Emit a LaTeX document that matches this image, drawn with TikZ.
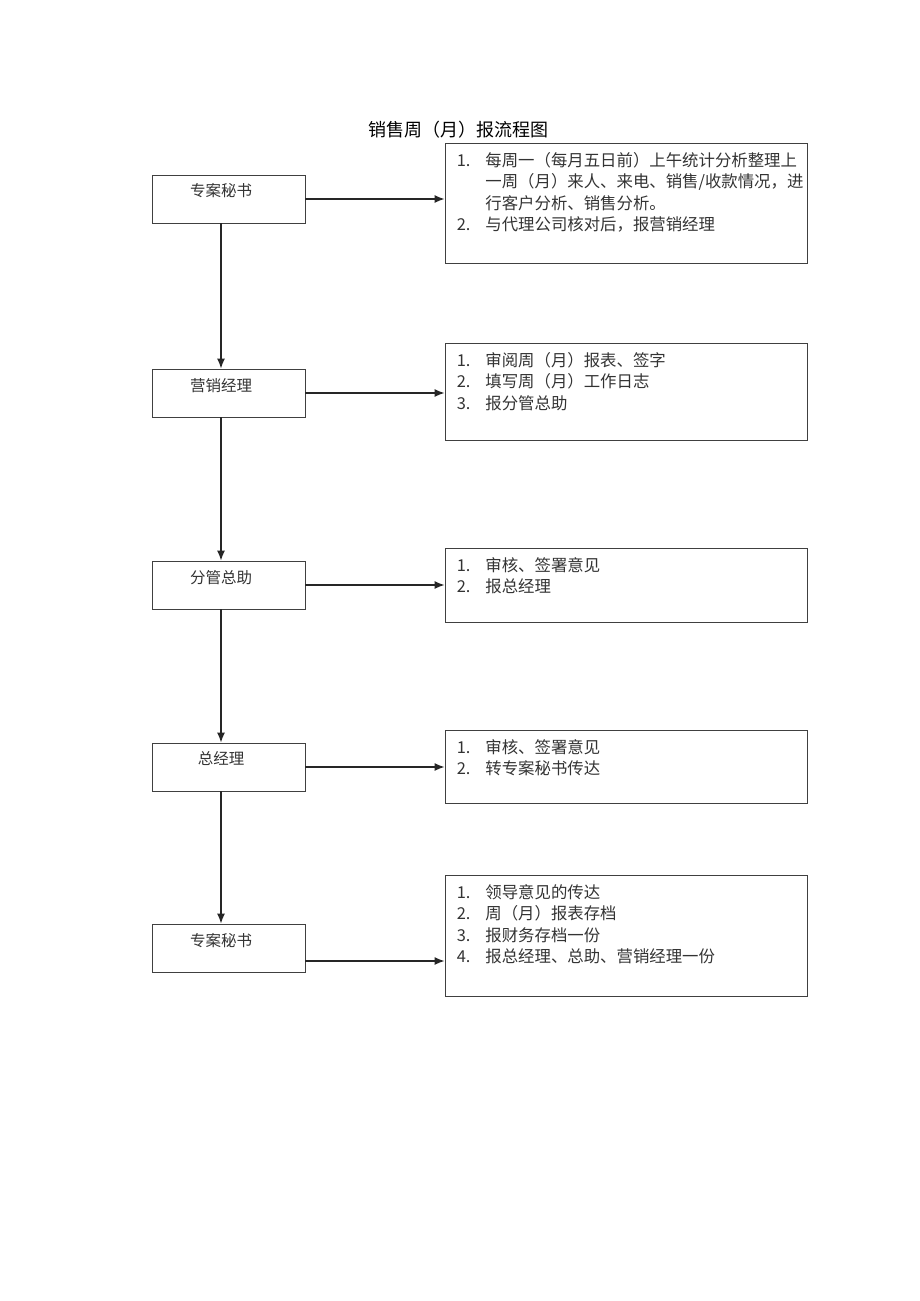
\documentclass[tikz,border=0pt]{standalone}
\usepackage{fontspec}
\newfontfamily\cjk{Noto Sans CJK SC}
\usetikzlibrary{arrows.meta}

\begin{document}
\begin{tikzpicture}[x=1pt,y=-1pt]
  \tikzset{lbox/.style = {draw=black!75,line width=0.9pt,minimum width=153pt,minimum height=48pt,inner sep=0pt}}
  \tikzset{rbox/.style = {draw=black!75,line width=0.9pt,minimum width=362pt,inner sep=0pt}}
  \tikzset{lbl/.style = {font=\cjk\fontsize{15.5}{21}\selectfont,text=black!80,inner sep=0pt}}
  \tikzset{items/.style = {font=\cjk\fontsize{16.4}{21.3}\selectfont,text=black!80,inner sep=0pt,anchor=north west,align=left}}
  \tikzset{edge/.style = {-{Latex[length=10pt,width=8pt]},line width=1.3pt,black!85}}

  \useasboundingbox (0,0) rectangle (920,1301);

  \node[font=\cjk\fontsize{18}{20}\selectfont] (title) at (458,130) {销售周（月）报流程图};

  % left column
  \node[lbox] (b1) at (228.5,199) {};
  \node[lbox] (b2) at (228.5,393) {};
  \node[lbox] (b3) at (228.5,585) {};
  \node[lbox] (b4) at (228.5,767) {};
  \node[lbox] (b5) at (228.5,948) {};
  \node[lbl] (t1) at (221,191) {专案秘书};
  \node[lbl] (t2) at (221,386) {营销经理};
  \node[lbl] (t3) at (221,578) {分管总助};
  \node[lbl] (t4) at (221,759) {总经理};
  \node[lbl] (t5) at (221,941) {专案秘书};

  % right column
  \node[rbox,minimum height=120pt] (r1) at (626,203) {};
  \node[rbox,minimum height=97pt] (r2) at (626,391.5) {};
  \node[rbox,minimum height=74pt] (r3) at (626,585) {};
  \node[rbox,minimum height=73pt] (r4) at (626,766.5) {};
  \node[rbox,minimum height=121pt] (r5) at (626,935.5) {};

  \node[items] (l1) at ([xshift=12pt,yshift=-9pt]r1.north west)
    {\begin{tabular}{@{}l@{\hskip 15pt}l@{}}
      1. & 每周一（每月五日前）上午统计分析整理上\\
         & 一周（月）来人、来电、销售/收款情况，进\\
         & 行客户分析、销售分析。\\
      2. & 与代理公司核对后，报营销经理
     \end{tabular}};
  \node[items] (l2) at ([xshift=12pt,yshift=-9pt]r2.north west)
    {\begin{tabular}{@{}l@{\hskip 15pt}l@{}}
      1. & 审阅周（月）报表、签字\\
      2. & 填写周（月）工作日志\\
      3. & 报分管总助
     \end{tabular}};
  \node[items] (l3) at ([xshift=12pt,yshift=-9pt]r3.north west)
    {\begin{tabular}{@{}l@{\hskip 15pt}l@{}}
      1. & 审核、签署意见\\
      2. & 报总经理
     \end{tabular}};
  \node[items] (l4) at ([xshift=12pt,yshift=-9pt]r4.north west)
    {\begin{tabular}{@{}l@{\hskip 15pt}l@{}}
      1. & 审核、签署意见\\
      2. & 转专案秘书传达
     \end{tabular}};
  \node[items] (l5) at ([xshift=12pt,yshift=-9pt]r5.north west)
    {\begin{tabular}{@{}l@{\hskip 15pt}l@{}}
      1. & 领导意见的传达\\
      2. & 周（月）报表存档\\
      3. & 报财务存档一份\\
      4. & 报总经理、总助、营销经理一份
     \end{tabular}};

  \foreach \from/\to in {b1/b2, b2/b3, b3/b4, b4/b5}
    \draw[edge] (\from.south -| t1) -- (\to.north -| t1);

  \foreach \from/\to in {b1/r1, b2/r2, b3/r3, b4/r4}
    \draw[edge] (\from.east) -- (\to.west |- \from.east);
  \draw[edge] ([yshift=-13pt]b5.east) coordinate (e5) -- (r5.west |- e5);
\end{tikzpicture}
\end{document}
